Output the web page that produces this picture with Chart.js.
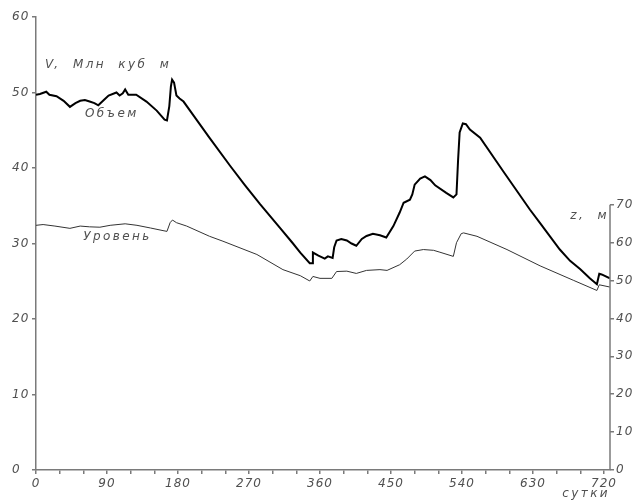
<!DOCTYPE html>
<html>
<head>
<meta charset="utf-8">
<script src="https://cdn.jsdelivr.net/npm/chart.js@4/dist/chart.umd.min.js"></script>
<style>
  html, body { margin: 0; padding: 0; background: #fff; }
  #wrap { width: 637px; height: 501px; }
</style>
</head>
<body>
<div id="wrap"><canvas id="myChart" width="637" height="501"></canvas></div>
<script>
  // Data: объем водохранилища (млн куб м) и уровень (м) по суткам
  const volDays = [0, 5, 13, 17, 26, 35, 43, 50, 56, 62, 68, 74, 79, 86, 92, 102, 106, 110, 113, 117,
    127, 140, 153, 163, 166, 169, 171, 172.5, 175, 178, 182, 187, 200, 220, 246, 265, 284, 309, 325,
    335, 347, 350, 351, 358, 366, 370, 376, 378, 381, 387, 394, 400, 406, 413, 419, 427, 436, 444,
    453, 461, 466, 474, 477, 480, 487, 493, 500, 506, 520, 529, 533, 535, 537, 541, 545, 550, 563,
    592, 626, 639, 664, 677, 690, 702, 711, 714, 717, 727.5];
  const volValues = [49.7, 49.8, 50.1, 49.7, 49.5, 48.9, 48.1, 48.6, 48.9, 49.0, 48.8, 48.6, 48.3, 49.0,
    49.6, 50.0, 49.6, 49.9, 50.4, 49.7, 49.7, 48.8, 47.6, 46.4, 46.3, 48.2, 50.8, 51.7, 51.3, 49.6,
    49.2, 48.8, 46.9, 44.0, 40.3, 37.7, 35.2, 32.1, 30.1, 28.8, 27.4, 27.4, 28.8, 28.4, 28.0, 28.3,
    28.1, 29.5, 30.4, 30.6, 30.4, 30.0, 29.7, 30.6, 31.0, 31.3, 31.1, 30.8, 32.3, 34.1, 35.4, 35.8,
    36.5, 37.8, 38.6, 38.9, 38.4, 37.7, 36.7, 36.1, 36.5, 41.0, 44.7, 45.9, 45.8, 45.1, 44.0, 39.6,
    34.5, 32.7, 29.2, 27.7, 26.6, 25.4, 24.6, 26.0, 25.9, 25.4];

  const levDays = [0, 9, 24, 43, 56, 68, 81, 94, 113, 128, 145, 161, 166, 170, 173, 178, 191, 220, 237,
    280, 313, 335, 347, 351, 360, 375, 381, 394, 406, 419, 436, 445, 461, 470, 480, 491, 504, 512,
    529, 533, 539, 542, 559, 597, 639, 681, 711, 714, 727.5];
  const levValues = [64.6, 64.8, 64.4, 63.8, 64.4, 64.2, 64.1, 64.6, 65.0, 64.6, 63.9, 63.2, 63.0, 65.3,
    66.0, 65.3, 64.4, 61.7, 60.4, 56.9, 52.9, 51.3, 49.9, 51.1, 50.6, 50.6, 52.4, 52.5, 51.9, 52.7,
    52.9, 52.7, 54.2, 55.7, 57.8, 58.2, 58.0, 57.5, 56.4, 60.0, 62.4, 62.6, 61.7, 58.2, 53.9, 50.1,
    47.4, 48.9, 48.3];

  const xTicks = [0, 30, 60, 90, 120, 150, 180, 210, 240, 270, 300, 330, 360, 390, 420, 450, 480,
    510, 540, 570, 600, 630, 660, 690, 720];
  const xLabelStep = 90;
  const yTicks = [0, 10, 20, 30, 40, 50, 60];
  const y2Ticks = [0, 10, 20, 30, 40, 50, 60, 70];

  const axisColor = "#7a7a7a";
  const textColor = "#505050";
  const fontFamily = "'DejaVu Sans', 'Liberation Sans', sans-serif";
  const tickFont = { family: fontFamily, style: "italic", size: 12 };

  const toPoints = (xs, ys) => xs.map((d, i) => ({ x: d, y: ys[i] }));
  const setTicks = (vals) => (scale) => { scale.ticks = vals.map(v => ({ value: v })); };

  // Подписи и короткая ось z
  const extras = {
    id: "extras",
    beforeDraw(chart) {
      chart.ctx.letterSpacing = "1px";
    },
    afterDraw(chart) {
      const { ctx, chartArea, scales } = chart;
      const y2 = scales.y2;
      ctx.save();
      ctx.strokeStyle = axisColor;
      ctx.lineWidth = 1.5;
      ctx.beginPath();
      ctx.moveTo(chartArea.right, y2.getPixelForValue(0));
      ctx.lineTo(chartArea.right, y2.getPixelForValue(70));
      ctx.stroke();

      ctx.font = "italic 12px " + fontFamily;
      ctx.letterSpacing = "2.4px";
      ctx.fillStyle = textColor;
      ctx.textBaseline = "middle";
      ctx.textAlign = "left";
      ctx.fillText("V,  Млн  куб  м", 45, 65);
      ctx.fillText("Объем", scales.x.getPixelForValue(62), scales.y.getPixelForValue(47.2));
      ctx.fillText("Уровень", scales.x.getPixelForValue(60), y2.getPixelForValue(61.6));
      ctx.textAlign = "right";
      ctx.fillText("z,  м", 609, 216);
      ctx.fillText("сутки", 610, 494);
      ctx.restore();
    }
  };

  const config = {
    type: "line",
    data: {
      datasets: [
        {
          label: "Объем",
          data: toPoints(volDays, volValues),
          yAxisID: "y",
          borderColor: "#000",
          borderWidth: 2,
          pointRadius: 0,
          tension: 0
        },
        {
          label: "Уровень",
          data: toPoints(levDays, levValues),
          yAxisID: "y2",
          borderColor: "#333",
          borderWidth: 1,
          pointRadius: 0,
          tension: 0
        }
      ]
    },
    options: {
      responsive: false,
      animation: false,
      layout: { padding: { left: 12, top: 17, right: 0, bottom: 0 } },
      plugins: {
        legend: { display: false },
        tooltip: { enabled: false }
      },
      scales: {
        x: {
          type: "linear",
          min: 0,
          max: 727.6,
          afterBuildTicks: setTicks(xTicks),
          afterFit: (s) => { s.height = 31; },
          grid: { drawOnChartArea: false, tickLength: 4, color: axisColor, lineWidth: 1.5 },
          border: { color: axisColor, width: 1.5 },
          ticks: {
            color: textColor,
            font: tickFont,
            padding: 3,
            maxRotation: 0,
            autoSkip: false,
            callback: (v) => (v % xLabelStep === 0 ? String(v) : "")
          }
        },
        y: {
          position: "left",
          min: 0,
          max: 60,
          afterBuildTicks: setTicks(yTicks),
          afterFit: (s) => { s.width = 24; },
          grid: { drawOnChartArea: false, tickLength: 4, color: axisColor, lineWidth: 1.5 },
          border: { color: axisColor, width: 1.5 },
          ticks: { color: textColor, font: tickFont, crossAlign: "far", padding: 2 }
        },
        y2: {
          position: "right",
          min: 0,
          max: 119.6,
          afterBuildTicks: setTicks(y2Ticks),
          afterFit: (s) => { s.width = 27; },
          grid: { drawOnChartArea: false, tickLength: 4, color: axisColor, lineWidth: 1.5 },
          border: { display: false },
          ticks: { color: textColor, font: tickFont, padding: 2 }
        }
      }
    },
    plugins: [extras]
  };

  const ctx = document.getElementById("myChart").getContext("2d");
  const myChart = new Chart(ctx, config);
</script>
</body>
</html>
